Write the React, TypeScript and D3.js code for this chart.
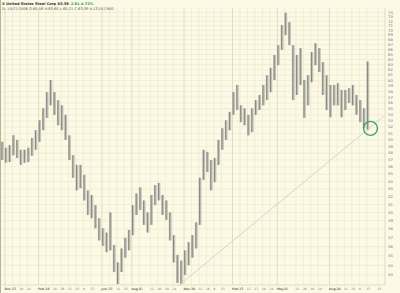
import React from "react";
import * as d3 from "d3";

const W = 400;
const H = 293;

// Weekly bars (Monday of each week), first week Dec 6 2004
const firstWeek = "2004-12-06";
const weekHighs = [
  49.7, 48.8, 49.2, 50.7, 50.0, 48.5, 48.5, 48.8, 50.3, 51.5,
  53.1, 55.1, 57.9, 60.1, 57.9, 56.5, 55.6, 54.0, 50.7, 47.7,
  46.3, 46.3, 44.9, 42.8, 42.2, 40.9, 39.3, 38.1, 37.6, 40.0,
  36.2, 34.3, 35.8, 37.0, 37.9, 40.9, 42.4, 43.2, 41.5, 40.0,
  42.2, 43.5, 43.8, 42.2, 41.5, 40.0, 37.3, 35.1, 34.5, 35.6,
  36.5, 37.3, 38.8, 44.5, 48.5, 48.2, 47.0, 47.3, 50.0, 51.8,
  53.1, 54.5, 57.9, 59.2, 55.6, 55.1, 54.0, 55.1, 56.5, 57.4,
  59.2, 61.0, 62.4, 64.9, 66.9, 71.2, 73.9, 71.8, 66.9, 64.9,
  66.3, 60.1, 61.0, 65.5, 67.3, 66.3, 63.5, 61.0, 59.2, 59.2,
  59.5, 58.3, 58.3, 58.6, 59.2, 57.4, 56.5, 55.1, 63.6,
];
const weekLows = [
  47.0, 46.6, 46.7, 47.7, 47.3, 46.3, 46.6, 46.7, 47.6, 48.5,
  49.7, 51.5, 53.5, 55.6, 54.0, 52.3, 51.5, 50.0, 47.0, 44.5,
  42.8, 43.1, 41.5, 39.7, 39.3, 38.1, 36.7, 36.1, 35.4, 35.6,
  33.3, 32.1, 33.3, 34.8, 35.6, 37.3, 39.7, 40.3, 38.5, 37.6,
  38.5, 40.9, 41.5, 39.7, 39.1, 36.7, 34.3, 32.2, 32.1, 33.0,
  34.0, 34.8, 35.8, 38.5, 44.2, 45.3, 42.8, 43.9, 46.3, 48.5,
  50.0, 51.5, 54.0, 54.8, 52.8, 52.3, 50.7, 51.2, 54.0, 54.8,
  55.6, 56.5, 57.9, 60.1, 62.9, 65.9, 69.0, 66.9, 56.5, 57.4,
  59.2, 53.5, 55.6, 59.7, 62.9, 61.6, 57.4, 54.8, 53.6, 55.6,
  55.6, 53.6, 54.8, 56.0, 55.6, 54.0, 52.8, 51.8, 51.5,
];

const priceLabels = [
  33, 34, 35, 36, 37, 38, 39, 40, 41, 42, 43, 44, 45, 46, 47, 48, 49, 50,
  51, 52, 53, 54, 55, 56, 57, 58, 59, 60, 61, 62, 63, 64, 65, 66, 67, 68,
  69, 70, 71, 72, 73, 74,
];

const dateTicks = [
  "2004-12-13", "2004-12-27", "2005-01-10", "2005-01-24", "2005-02-14",
  "2005-02-28", "2005-03-14", "2005-03-28", "2005-04-11", "2005-04-25",
  "2005-05-09", "2005-05-23", "2005-06-13", "2005-06-27", "2005-07-11",
  "2005-07-25", "2005-08-08", "2005-08-22", "2005-09-12", "2005-09-26",
  "2005-10-10", "2005-10-24", "2005-11-14", "2005-11-28", "2005-12-12",
  "2005-12-26", "2006-01-09", "2006-01-23", "2006-02-13", "2006-02-27",
  "2006-03-13", "2006-03-27", "2006-04-10", "2006-04-24", "2006-05-08",
  "2006-05-22", "2006-06-12", "2006-06-26", "2006-07-10", "2006-07-24",
  "2006-08-14", "2006-08-28", "2006-09-11", "2006-09-25", "2006-10-09",
  "2006-10-23", "2006-11-13",
];
const namedMonths = ["2004-12-13", "2005-02-14", "2005-06-13", "2005-08-08", "2005-11-14", "2006-02-13", "2006-05-08", "2006-08-14"];

const trendStart = { date: "2005-11-03", price: 31.9 };
const trendEnd = { date: "2006-11-24", price: 53.8 };
const circleMark = { date: "2006-10-30", price: 51.8 };

const titleName = "X United States Steel Corp";
const titlePrice = "63.39";
const titleChange = "2.81  4.72%";
const subTitle = "D: 10/27/2006  O:60.58  H:63.60  L:60.21  C:63.39  V:13,557,900";

const parse = d3.timeParse("%Y-%m-%d");
const fmtMon = d3.timeFormat("%b");
const fmtDay = d3.timeFormat("%-d");

export default function App() {
  const plotL = 2, plotR = 385, plotT = 8, plotB = 285;
  const x = d3.scaleTime().domain([parse("2004-12-13")!, parse("2006-10-30")!]).range([5, 370.5]);
  const y = d3.scaleLog().domain([32, 75]).range([plotB, plotT]);
  const w0 = parse(firstWeek)!;
  const bars = weekHighs.map((h, i) => {
    const mon = d3.timeWeek.offset(w0, i);
    const mid = d3.timeDay.offset(mon, 2);
    return { cx: x(mid), hi: y(h), lo: y(weekLows[i]) };
  });
  const bg = "#fcfae6";
  const grid = "#ebe6c6";
  const gridDark = "#dcd6b2";
  const font = "'DejaVu Sans', Arial, sans-serif";
  return (
    <svg width={W} height={H} style={{ position: "absolute", left: 0, top: 0, display: "block" }}>
      <rect x={0} y={0} width={W} height={H} fill={bg} />
      <g>
        {priceLabels.map((p) => (
          <line key={"h" + p} x1={plotL} x2={plotR} y1={y(p)} y2={y(p)} stroke={grid} strokeWidth={0.6} />
        ))}
        {dateTicks.map((d) => {
          const xx = x(parse(d)!);
          const dark = namedMonths.includes(d);
          return <line key={"v" + d} x1={xx} x2={xx} y1={plotT} y2={plotB} stroke={dark ? gridDark : grid} strokeWidth={dark ? 0.8 : 0.6} />;
        })}
      </g>
      <line x1={plotL} x2={plotR} y1={plotB} y2={plotB} stroke="#cfc9a8" strokeWidth={0.6} />
      <line x1={plotR} x2={plotR} y1={plotT} y2={plotB} stroke="#cfc9a8" strokeWidth={0.6} />
      <line x1={0.5} x2={0.5} y1={0} y2={H} stroke="#b8b49a" strokeWidth={1} />
      <g>
        {bars.map((b, i) => (
          <g key={i}>
            <rect x={b.cx - 1.4} width={2.8} y={b.hi} height={Math.max(1, b.lo - b.hi)} fill="#c2c2b8" />
            <line x1={b.cx - 0.4} x2={b.cx - 0.4} y1={b.hi} y2={b.lo} stroke="#6e6e6a" strokeWidth={0.7} />
          </g>
        ))}
      </g>
      <line
        x1={x(parse(trendStart.date)!)} y1={y(trendStart.price)}
        x2={x(parse(trendEnd.date)!)} y2={y(trendEnd.price)}
        stroke="#cfcfcf" strokeWidth={0.9}
      />
      <circle cx={x(parse(circleMark.date)!)} cy={y(circleMark.price)} r={7} fill="none" stroke="#3aa56a" strokeWidth={1.4} />
      <g fontFamily={font} fontSize={3.8} fill="#777">
        {priceLabels.map((p) => (
          <text key={"t" + p} x={388} y={y(p) + 1.3}>{p}</text>
        ))}
      </g>
      <g fontFamily={font} fontSize={3.1} fill="#777">
        {dateTicks.map((d) => {
          const dt = parse(d)!;
          const named = namedMonths.includes(d);
          return (
            <text key={"d" + d} x={x(dt) - 0.6} y={290} textAnchor="start">
              {named ? <tspan fontWeight="bold">{fmtMon(dt)} </tspan> : null}
              {fmtDay(dt)}
            </text>
          );
        })}
      </g>
      <g fontFamily={font} fontSize={3.6}>
        <text x={2} y={5} fill="#333" fontWeight="bold">
          {titleName}  {titlePrice}
          <tspan fill="#1f9a35" dx={2}>{titleChange}</tspan>
        </text>
        <text x={2} y={9.5} fill="#555">{subTitle}</text>
      </g>
    </svg>
  );
}
